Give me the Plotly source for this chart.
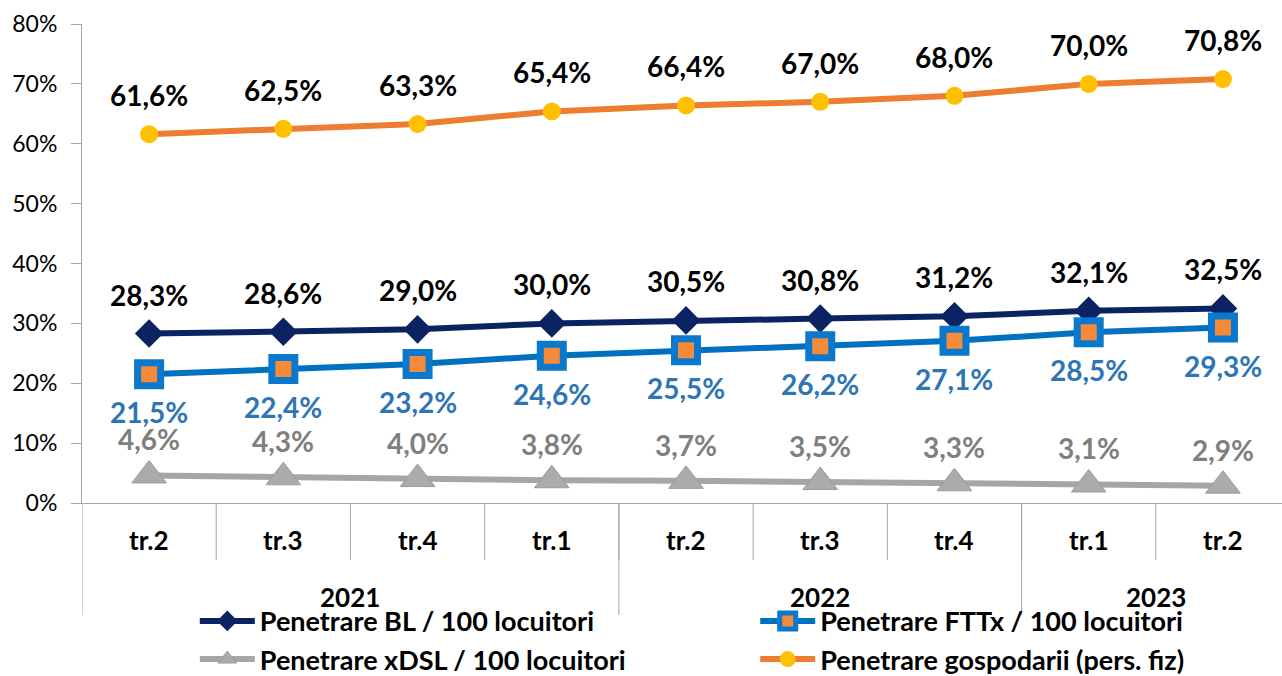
import plotly.graph_objects as go

quarters = ["tr.2", "tr.3", "tr.4", "tr.1", "tr.2", "tr.3", "tr.4", "tr.1", "tr.2"]
years = ["2021", "2022", "2023"]
year_groups = [[0, 1, 2, 3], [4, 5, 6], [7, 8]]

bl = [0.283, 0.286, 0.290, 0.300, 0.305, 0.308, 0.312, 0.321, 0.325]
fttx = [0.215, 0.224, 0.232, 0.246, 0.255, 0.262, 0.271, 0.285, 0.293]
xdsl = [0.046, 0.043, 0.040, 0.038, 0.037, 0.035, 0.033, 0.031, 0.029]
gosp = [0.616, 0.625, 0.633, 0.654, 0.664, 0.670, 0.680, 0.700, 0.708]

names = ["Penetrare BL / 100 locuitori", "Penetrare FTTx / 100 locuitori",
         "Penetrare xDSL / 100 locuitori", "Penetrare gospodarii (pers. fiz)"]

FONT = "Lato"
x = list(range(len(quarters)))

fig = go.Figure()
fig.add_trace(go.Scatter(x=x, y=bl, name=names[0], mode="lines+markers",
                         legend="legend", legendgroup="g1",
                         line=dict(color="#0B2362", width=6),
                         marker=dict(symbol="diamond", size=22, color="#0B2362",
                                     line=dict(width=0))))
fig.add_trace(go.Scatter(x=x, y=fttx, name=names[1], mode="lines+markers",
                         legend="legend2", legendgroup="g2",
                         line=dict(color="#0070C0", width=6),
                         marker=dict(symbol="square", size=23, color="#F58A3A",
                                     line=dict(width=7, color="#0A78CC"))))
fig.add_trace(go.Scatter(x=x, y=xdsl, name=names[2], mode="lines+markers",
                         legend="legend", legendgroup="g3",
                         line=dict(color="#A6A6A6", width=6),
                         marker=dict(symbol="triangle-up", size=30, color="#ABABAB",
                                     line=dict(width=1, color="#9A9A9A"))))
fig.add_trace(go.Scatter(x=x, y=gosp, name=names[3], mode="lines+markers",
                         legend="legend2", legendgroup="g4",
                         line=dict(color="#ED7D31", width=6),
                         marker=dict(symbol="circle", size=18, color="#FFC000",
                                     line=dict(width=0))))

def fmt(v):
    return f"{v*100:.1f}%".replace(".", ",")

annotations = []
label_specs = [(bl, 39, "#000000"), (fttx, -38, "#2E75B6"),
               (xdsl, 36, "#7F7F7F"), (gosp, 39, "#000000")]
for vals, shift, col in label_specs:
    for i, v in enumerate(vals):
        annotations.append(dict(x=i, y=v, xref="x", yref="y", text=fmt(v),
                                showarrow=False, yshift=shift, yanchor="middle",
                                font=dict(family=FONT, size=28, color=col, weight="bold")))

for i, q in enumerate(quarters):
    annotations.append(dict(x=i, y=0, xref="x", yref="paper", text=q,
                            showarrow=False, yshift=-37, yanchor="middle",
                            font=dict(family=FONT, size=26, color="#000000", weight="bold")))
for yr, grp in zip(years, year_groups):
    annotations.append(dict(x=sum(grp) / len(grp), y=0, xref="x", yref="paper",
                            text=yr, showarrow=False, yshift=-94, yanchor="middle",
                            font=dict(family=FONT, size=26, color="#000000", weight="bold")))

shapes = []
plot_h = 676 - 24 - 173
for i in range(1, len(quarters)):
    shapes.append(dict(type="line", xref="x", yref="paper", x0=i - 0.5, x1=i - 0.5,
                       y0=0, y1=-57 / plot_h, line=dict(color="#A6A6A6", width=1)))
for grp in year_groups:
    b = grp[0] - 0.5
    shapes.append(dict(type="line", xref="x", yref="paper", x0=b, x1=b,
                       y0=0, y1=-112 / plot_h, line=dict(color="#A6A6A6", width=1)))

legend_common = dict(orientation="v", xanchor="left", y=-0.196, yanchor="top",
                     itemwidth=55, tracegroupgap=3,
                     font=dict(family=FONT, size=27, color="#000000", weight="bold"),
                     bgcolor="rgba(0,0,0,0)", traceorder="normal")

fig.update_layout(
    width=1282, height=676,
    margin=dict(l=82, r=0, t=24, b=173, autoexpand=False),
    paper_bgcolor="white", plot_bgcolor="white",
    font=dict(family=FONT, color="#000000"),
    annotations=annotations, shapes=shapes,
    showlegend=True,
    legend=dict(x=0.094, **legend_common),
    legend2=dict(x=0.561, **legend_common),
    xaxis=dict(range=[-0.5, 8.44], showgrid=False, zeroline=False, showline=True,
               linecolor="#A6A6A6", linewidth=1, showticklabels=False, ticks="",
               fixedrange=True, automargin=False),
    yaxis=dict(range=[0, 0.8], dtick=0.1, tickformat=".0%", showgrid=False,
               zeroline=False, showline=True, linecolor="#A6A6A6", linewidth=1,
               ticks="outside", ticklen=10, tickcolor="#A6A6A6",
               tickfont=dict(family=FONT, size=23, color="#000000"),
               ticklabelstandoff=9, fixedrange=True, automargin=False),
)

fig.write_html("out.html", config={"displayModeBar": False},
               post_script="document.body.style.margin='0';document.body.style.overflow='hidden';")
